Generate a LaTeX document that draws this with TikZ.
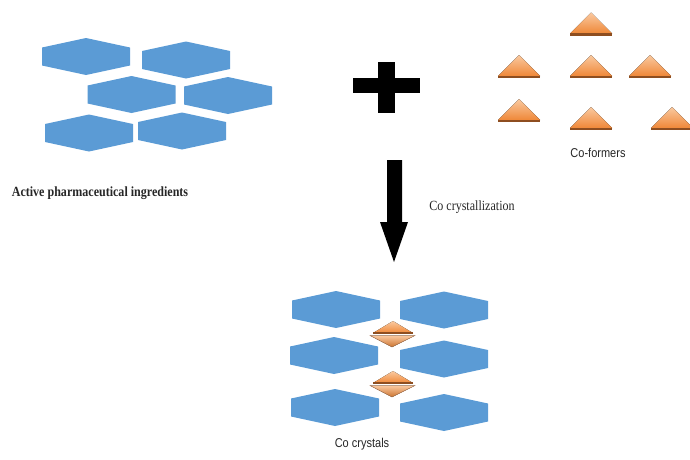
\documentclass[tikz,border=0pt]{standalone}
\usepackage{fontspec}
\setmainfont{Liberation Serif}
\newfontfamily\capserif[FakeStretch=0.86]{Liberation Serif}
\newfontfamily\capsans[FakeStretch=0.86]{Liberation Sans}

\definecolor{apiblue}{HTML}{5B9BD5}
\definecolor{cforange}{HTML}{EF8838}
\definecolor{cflight}{HTML}{FAC9A0}
\definecolor{cfdark}{HTML}{8E4E20}

\begin{document}
\begin{tikzpicture}[x=1pt,y=-1pt,
    sanslabel/.style={font=\capsans\fontsize{12.8}{14}\selectfont, text=black!85},
    seriflabel/.style={font=\capserif\fontsize{14}{16}\selectfont, text=black!85}]
    \useasboundingbox (0,0) rectangle (690,459);

    \def\apimol#1{
    \begin{scope}[shift={#1}]
    \fill[apiblue] (-44,-9) -- (0,-18.5) -- (44,-9) -- (44,9) -- (0,18.5) -- (-44,9) -- cycle;
    \end{scope}
    }
    \def\coformer#1{
    \begin{scope}[shift={#1}]
    \fill[top color=cflight, bottom color=cforange] (0,-11) -- (21,10) -- (-21,10) -- cycle;
    \fill[cfdark] (-21,9.5) rectangle (21,12);
    \end{scope}
    }
    \def\cocrystal#1{
    \begin{scope}[shift={#1}]
    \fill[top color=cflight, bottom color=cforange] (0,-13) -- (20,-1) -- (-20,-1) -- cycle;
    \fill[cfdark] (-20,-2.5) rectangle (20,0);
    \fill[top color=cflight, bottom color=cforange!85!black, draw=cfdark!80, thin] (-23,1.5) -- (22,1.5) -- (-1,13) -- cycle;
    \end{scope}
    }

    % active pharmaceutical ingredients
    \apimol{(86,56.5)};
    \apimol{(186,60)};
    \apimol{(131.5,94.5)};
    \apimol{(228,95.5)};
    \apimol{(89,133)};
    \apimol{(182,131)};
    \node[seriflabel, font=\capserif\bfseries\fontsize{14}{16}\selectfont] (api) at (100,193) {Active pharmaceutical ingredients};

    % plus
    \fill[black] (353,78) rectangle (420,93);
    \fill[black] (378,62) rectangle (395,113);

    % co-formers
    \coformer{(591,23.5)};
    \coformer{(519,66)};
    \coformer{(591,66)};
    \coformer{(650,66)};
    \coformer{(519,110)};
    \coformer{(591,118)};
    \coformer{(672,118)};
    \node[sanslabel] (cf) at (598,153) {Co-formers};

    % co crystallization arrow
    \fill[black] (387,160) -- (402,160) -- (402,222) -- (408,222) -- (394,262) -- (380,222) -- (387,222) -- cycle;
    \node[seriflabel] (step) at (472,207) {Co crystallization};

    % co crystals
    \apimol{(336,309.5)};
    \apimol{(444,310)};
    \apimol{(334,355.5)};
    \apimol{(444,359)};
    \apimol{(335,407.5)};
    \apimol{(444,412.5)};
    \cocrystal{(393,334)};
    \cocrystal{(393,384)};
    \node[sanslabel] (cc) at (362,444) {Co crystals};
\end{tikzpicture}
\end{document}
